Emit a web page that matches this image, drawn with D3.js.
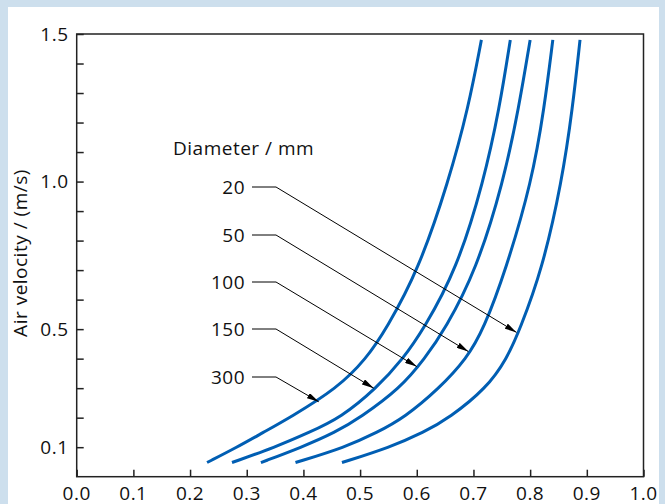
<!DOCTYPE html>
<html>
<head>
<meta charset="utf-8">
<script src="https://cdn.jsdelivr.net/npm/d3@7/dist/d3.min.js"></script>
<style>
body { margin: 0; background: #cddfed; }
svg { display: block; }
text { font-family: "Open Sans", sans-serif; fill: #111; font-size: 19px; letter-spacing: 0.5px; }
</style>
</head>
<body>
<svg id="chart" width="665" height="504"></svg>
<script>
// air velocity levels (m/s) at which each curve was read
const velocity = [0.048, 0.1, 0.15, 0.2, 0.3, 0.4, 0.5, 0.7, 1.0, 1.25, 1.48]
// x value of each curve at those velocities, one array per diameter
const d20  = [0.468, 0.553, 0.612, 0.658, 0.723, 0.759, 0.782, 0.821, 0.856, 0.875, 0.888]
const d50  = [0.386, 0.474, 0.530, 0.578, 0.640, 0.688, 0.718, 0.757, 0.803, 0.825, 0.840]
const d100 = [0.325, 0.397, 0.456, 0.500, 0.571, 0.614, 0.650, 0.705, 0.753, 0.780, 0.800]
const d150 = [0.274, 0.350, 0.410, 0.466, 0.529, 0.576, 0.612, 0.670, 0.718, 0.746, 0.765]
const d300 = [0.230, 0.283, 0.329, 0.376, 0.460, 0.511, 0.546, 0.603, 0.656, 0.691, 0.714]

const diameters = ['20', '50', '100', '150', '300']
// where each leader arrow touches its curve [x, velocity]
const arrowTips = [[0.776, 0.489], [0.691, 0.424], [0.600, 0.373], [0.524, 0.300], [0.427, 0.254]]

const xTicks = d3.range(0, 1.01, 0.1)
const yTicks = d3.range(0.1, 1.51, 0.1)
const yLabels = [0.1, 0.5, 1.0, 1.5]

const series = [d20, d50, d100, d150, d300]

const svg = d3.select('#chart')

// white panel
svg.append('rect')
    .attr('x', 8).attr('y', 7)
    .attr('width', 651).attr('height', 510)
    .attr('fill', '#fff')

const pLeft = 76.7, pRight = 643.5, pTop = 34, pBottom = 476.7
const x = d3.scaleLinear().domain([0, 1]).range([pLeft, pRight])
const y = d3.scaleLinear().domain([0, 1.5]).range([pBottom, pTop])

// frame
svg.append('rect')
    .attr('x', pLeft).attr('y', pTop)
    .attr('width', pRight - pLeft).attr('height', pBottom - pTop)
    .attr('fill', 'none')
    .attr('stroke', '#222')
    .attr('stroke-width', 1.5)

// x axis, ticks pointing inwards
const xAxis = svg.append('g')
    .attr('transform', `translate(0,${pBottom})`)
    .call(d3.axisTop(x).tickValues(xTicks).tickSize(7).tickFormat(''))
xAxis.select('.domain').remove()
xAxis.selectAll('line').attr('stroke', '#222').attr('stroke-width', 1.5)

svg.append('g').selectAll('text')
    .data(xTicks)
    .join('text')
    .attr('x', d => x(d))
    .attr('y', 499.5)
    .attr('text-anchor', 'middle')
    .text(d => d3.format('.1f')(d))

// y axis, ticks pointing inwards
const yAxis = svg.append('g')
    .attr('transform', `translate(${pLeft},0)`)
    .call(d3.axisRight(y).tickValues(yTicks).tickSize(7).tickFormat(''))
yAxis.select('.domain').remove()
yAxis.selectAll('line').attr('stroke', '#222').attr('stroke-width', 1.5)

svg.append('g').selectAll('text')
    .data(yLabels)
    .join('text')
    .attr('x', 68.5)
    .attr('y', d => y(d))
    .attr('dy', '0.35em')
    .attr('text-anchor', 'end')
    .text(d => d3.format('.1f')(d))

svg.append('text')
    .attr('transform', 'translate(27,253) rotate(-90)')
    .attr('text-anchor', 'middle')
    .text('Air velocity / (m/s)')

// curves
const line = d3.line()
    .x(d => x(d[0]))
    .y(d => y(d[1]))
    .curve(d3.curveBasis)

series.forEach(s => {
    svg.append('path')
        .attr('d', line(s.map((v, i) => [v, velocity[i]])))
        .attr('fill', 'none')
        .attr('stroke', '#005eb3')
        .attr('stroke-width', 3)
})

// legend / leaders
svg.append('defs').append('marker')
    .attr('id', 'arrow')
    .attr('viewBox', '0 0 12 6')
    .attr('refX', 12).attr('refY', 3)
    .attr('markerWidth', 12).attr('markerHeight', 6)
    .attr('markerUnits', 'userSpaceOnUse')
    .attr('orient', 'auto')
    .append('path')
    .attr('d', 'M0,0L12,3L0,6Z')
    .attr('fill', '#000')

svg.append('text')
    .attr('x', 173).attr('y', 155)
    .text('Diameter / mm')

const labelY = [187, 235, 282, 329, 377]
diameters.forEach((dia, i) => {
    const ly = labelY[i]
    svg.append('text')
        .attr('x', 245).attr('y', ly)
        .attr('dy', '0.35em')
        .attr('text-anchor', 'end')
        .text(dia)
    svg.append('path')
        .attr('d', `M252,${ly}L276,${ly}L${x(arrowTips[i][0])},${y(arrowTips[i][1])}`)
        .attr('fill', 'none')
        .attr('stroke', '#000')
        .attr('stroke-width', 1)
        .attr('marker-end', 'url(#arrow)')
})
</script>
</body>
</html>
